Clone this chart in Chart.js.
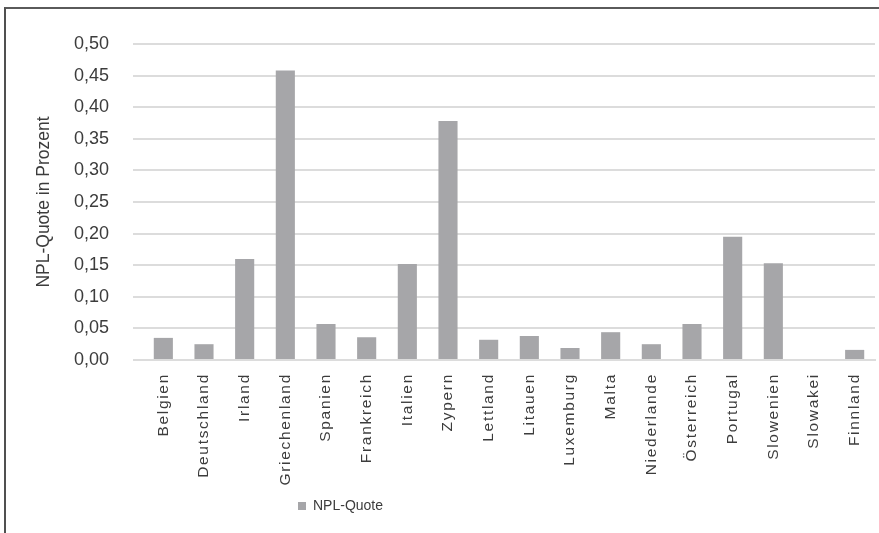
<!DOCTYPE html>
<html>
<head>
<meta charset="utf-8">
<script src="https://cdn.jsdelivr.net/npm/chart.js@4"></script>
<style>
  body { margin: 0; background: #fff; }
  #wrap { position: relative; width: 879px; height: 533px; overflow: hidden; }
  #frame { position: absolute; left: 4px; top: 7px; width: 1000px; height: 1000px;
           border-left: 2px solid #505050; border-top: 2px solid #5a5a5a; }
  canvas { position: absolute; left: 0; top: 0; }
</style>
</head>
<body>
<div id="wrap">
  <div id="frame"></div>
  <canvas id="nplChart" width="879" height="533"></canvas>
</div>
<script>
const countries = ['Belgien', 'Deutschland', 'Irland', 'Griechenland', 'Spanien', 'Frankreich',
  'Italien', 'Zypern', 'Lettland', 'Litauen', 'Luxemburg', 'Malta', 'Niederlande',
  'Österreich', 'Portugal', 'Slowenien', 'Slowakei', 'Finnland'];
const nplQuote = [0.035, 0.025, 0.160, 0.458, 0.057, 0.036, 0.152, 0.378, 0.032,
  0.038, 0.019, 0.044, 0.025, 0.057, 0.195, 0.153, 0, 0.016];
const seriesName = 'NPL-Quote';
const axisTitle = 'NPL-Quote in Prozent';

const textColor = '#3c3c3c';
const gridColor = '#dcdcdc';
const barColor = '#a6a6a9';

// Kategorie-Achse mit Zeichenabstand, wie im Original
class SpacedCategory extends Chart.CategoryScale {
  drawLabels(chartArea) {
    this.ctx.letterSpacing = '1.7px';
    super.drawLabels(chartArea);
    this.ctx.letterSpacing = '0px';
  }
}
SpacedCategory.id = 'spacedCategory';
SpacedCategory.defaults = Chart.CategoryScale.defaults;
Chart.register(SpacedCategory);

// Legende weiter links, wie im Original
const legendShift = {
  id: 'legendShift',
  afterLayout(chart) {
    chart.legend.left = 288;
    chart.legend.right = 879;
  }
};

const ctx = document.getElementById('nplChart').getContext('2d');
new Chart(ctx, {
  type: 'bar',
  data: {
    labels: countries,
    datasets: [{
      label: seriesName,
      data: nplQuote,
      backgroundColor: barColor,
      borderWidth: 0,
      categoryPercentage: 1,
      barPercentage: 0.47
    }]
  },
  options: {
    responsive: false,
    animation: false,
    layout: { padding: { left: 30, right: 4, top: 44, bottom: 10 } },
    plugins: {
      tooltip: { enabled: false },
      legend: {
        position: 'bottom',
        align: 'start',
        labels: {
          boxWidth: 8,
          boxHeight: 8,
          padding: 10,
          color: textColor,
          font: { family: "'Liberation Sans Narrow', 'Liberation Sans', Arial, sans-serif", size: 14 }
        }
      }
    },
    scales: {
      x: {
        type: 'spacedCategory',
        grid: { display: false, drawTicks: false },
        border: { display: true, color: gridColor, width: 2 },
        ticks: {
          minRotation: 90,
          maxRotation: 90,
          autoSkip: false,
          padding: 13,
          color: textColor,
          font: { family: "'Liberation Sans', Arial, sans-serif", size: 15.5 }
        },
        afterFit(scale) {
          scale.height = 129;
          scale.paddingLeft = 0;
          scale.paddingRight = 0;
        }
      },
      y: {
        min: 0,
        max: 0.5,
        grid: { color: gridColor, lineWidth: 2, drawTicks: true, tickLength: 10 },
        border: { display: false },
        ticks: {
          stepSize: 0.05,
          padding: 24,
          color: textColor,
          font: { family: "'Liberation Sans', Arial, sans-serif", size: 18 },
          callback: v => (Math.round(v * 100) / 100).toFixed(2).replace('.', ',')
        },
        title: {
          display: true,
          text: axisTitle,
          color: textColor,
          font: { family: "'Liberation Sans', Arial, sans-serif", size: 17.5 }
        },
        afterFit(scale) { scale.width = 113; }
      }
    }
  },
  plugins: [legendShift]
});
</script>
</body>
</html>
